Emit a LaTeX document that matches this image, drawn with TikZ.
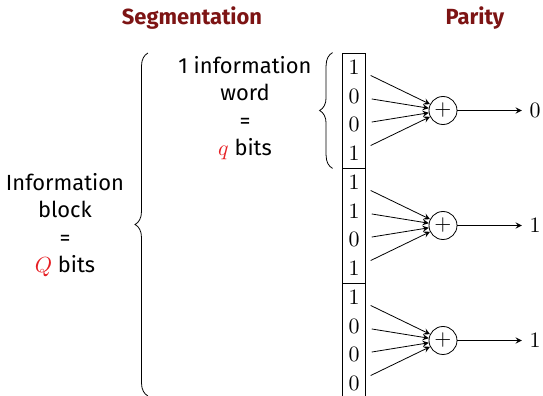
\documentclass[tikz,border=0pt,11pt]{standalone}
\usepackage{fontspec}
\setsansfont{Fira Sans}
\usepackage{xcolor}
\usetikzlibrary{decorations.pathreplacing}
\definecolor{headred}{RGB}{125,20,20}
\definecolor{varred}{RGB}{230,30,35}
\newcommand{\varq}[1]{\textcolor{varred}{$#1$}}

\begin{document}
\begin{tikzpicture}[x=0.5pt, y=-0.5pt,
  heading/.style={font=\sffamily\bfseries, text=headred},
  note/.style={font=\sffamily, align=center},
  word/.style={draw, minimum width=11.5pt, minimum height=57.5pt, inner sep=0pt},
  bit/.style={inner sep=0pt},
  xorsum/.style={draw, circle, minimum size=14pt, inner sep=0pt},
  arrow/.style={->, >=stealth, shorten <=6pt},
  brace/.style={decorate, decoration={brace, amplitude=6.5pt}}
]
\useasboundingbox (0,0) rectangle (543,396);

% Column headings
\node[heading] (seg) at (192,18) {Segmentation};
\node[heading] (par) at (475,18) {Parity};

% Words of the block (top to bottom)
\node[word] (w1) at (353.5,110.5) {};
\node[word] (w2) at (353.5,225.5) {};
\node[word] (w3) at (353.5,340.5) {};

% Bits of each word
\node[bit] (b11) at (354,67.4) {1};  \node[bit] (b12) at (354,96.1) {0};
\node[bit] (b13) at (354,124.9) {0}; \node[bit] (b14) at (354,153.6) {1};
\node[bit] (b21) at (354,182.4) {1}; \node[bit] (b22) at (354,211.1) {1};
\node[bit] (b23) at (354,239.9) {0}; \node[bit] (b24) at (354,268.6) {1};
\node[bit] (b31) at (354,297.4) {1}; \node[bit] (b32) at (354,326.1) {0};
\node[bit] (b33) at (354,354.9) {0}; \node[bit] (b34) at (354,383.6) {0};

% Modulo-2 sums
\node[xorsum] (s1) at (443,110.5) {$+$};
\node[xorsum] (s2) at (443,225.5) {$+$};
\node[xorsum] (s3) at (443,340.5) {$+$};

% Parity bits
\node (p1) at (535,110.5) {0};
\node (p2) at (535,225.5) {1};
\node (p3) at (535,340.5) {1};

% Bits into the sums
\path (b11) edge[arrow] (s1) (b12) edge[arrow] (s1)
      (b13) edge[arrow] (s1) (b14) edge[arrow] (s1);
\path (b21) edge[arrow] (s2) (b22) edge[arrow] (s2)
      (b23) edge[arrow] (s2) (b24) edge[arrow] (s2);
\path (b31) edge[arrow] (s3) (b32) edge[arrow] (s3)
      (b33) edge[arrow] (s3) (b34) edge[arrow] (s3);

% Sums out to the parity bits
\draw[->, >=stealth] (s1) -- (p1);
\draw[->, >=stealth] (s2) -- (p2);
\draw[->, >=stealth] (s3) -- (p3);

% Braces and their texts
\draw[brace] ([xshift=-4.5pt]w1.south west) -- ([xshift=-4.5pt]w1.north west);
\draw[brace] (148,396) -- (148,53);
\node[note] (wordtxt) at (245,108) {1 information\\word\\=\\\varq{q} bits};
\node[note] (blocktxt) at (65,225) {Information\\block\\=\\\varq{Q} bits};

\end{tikzpicture}
\end{document}
